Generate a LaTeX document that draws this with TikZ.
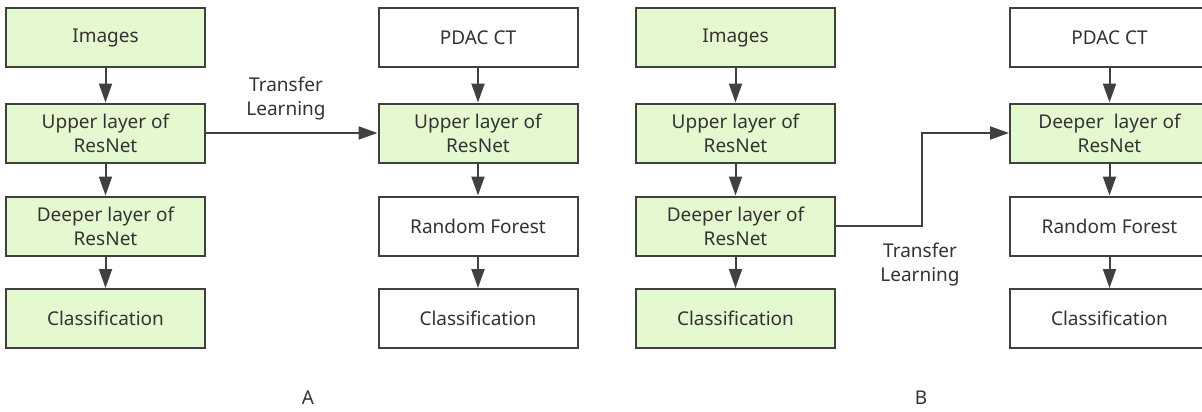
\documentclass[tikz,border=0pt]{standalone}
\usepackage{fontspec}
\setmainfont{Noto Sans}
\usetikzlibrary{arrows.meta}

\definecolor{leaf}{RGB}{229,249,208}
\definecolor{edge}{RGB}{64,64,64}
\definecolor{ink}{RGB}{51,51,51}

\tikzset{
	stage/.style = {draw = edge, line width = 2pt, minimum width = 199pt, minimum height = 59pt,
		align = center, text = ink, font = \fontsize{19}{24}\selectfont, inner sep = 0pt},
	netstage/.style = {stage, fill = leaf},
	plainstage/.style = {stage, fill = white},
	flow/.style = {line width = 2pt, edge, arrows = {-Triangle[length = 19pt, width = 13pt]}},
	note/.style = {text = ink, align = center, font = \fontsize{19}{24}\selectfont}
}

\begin{document}
\begin{tikzpicture}[x = 1pt, y = -1pt]
		\useasboundingbox (0, 0) rectangle (1202, 412);

		% A: plain ResNet and the transferred upper layer
		\node[netstage] (aimg) at (105.5, 37.5) {Images};
		\node[netstage] (aup) at (105.5, 133) {Upper layer of\\ResNet};
		\node[netstage] (adeep) at (105.5, 226) {Deeper layer of\\ResNet};
		\node[netstage] (acls) at (105.5, 318.5) {Classification};

		\node[plainstage] (act) at (478, 37.5) {PDAC CT};
		\node[netstage] (atl) at (478, 133) {Upper layer of\\ResNet};
		\node[plainstage] (arf) at (478, 226) {Random Forest};
		\node[plainstage] (atcls) at (478, 318.5) {Classification};

		\draw[flow] (aimg) -- (aup);
		\draw[flow] (aup) -- (adeep);
		\draw[flow] (adeep) -- (acls);
		\draw[flow] (act) -- (atl);
		\draw[flow] (atl) -- (arf);
		\draw[flow] (arf) -- (atcls);
		\draw[flow] (aup) -- (atl);
		\node[note] (anote) at (286, 99) {Transfer\\Learning};
		\node[note] (alab) at (308, 398) {A};

		% B: same, but the deeper layer is transferred
		\node[netstage] (bimg) at (735.5, 37.5) {Images};
		\node[netstage] (bup) at (735.5, 133) {Upper layer of\\ResNet};
		\node[netstage] (bdeep) at (735.5, 226) {Deeper layer of\\ResNet};
		\node[netstage] (bcls) at (735.5, 318.5) {Classification};

		\node[plainstage] (bct) at (1109.5, 37.5) {PDAC CT};
		\node[netstage] (btl) at (1109.5, 133) {Deeper~ layer of\\ResNet};
		\node[plainstage] (brf) at (1109.5, 226) {Random Forest};
		\node[plainstage] (btcls) at (1109.5, 318.5) {Classification};

		\draw[flow] (bimg) -- (bup);
		\draw[flow] (bup) -- (bdeep);
		\draw[flow] (bdeep) -- (bcls);
		\draw[flow] (bct) -- (btl);
		\draw[flow] (btl) -- (brf);
		\draw[flow] (brf) -- (btcls);
		\coordinate (bbend) at (922, 226);
		\draw[flow] (bdeep) -- (bbend) |- (btl);
		\node[note] (bnote) at (920, 265) {Transfer\\Learning};
		\node[note] (blab) at (921, 398) {B};
	\end{tikzpicture}
\end{document}
